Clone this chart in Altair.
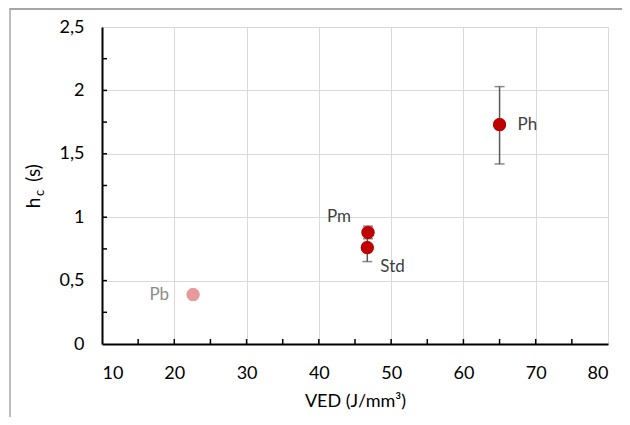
import altair as alt
import pandas as pd

# ---- data ----
names = ["Pb", "Std", "Pm", "Ph"]
ved = [22.6, 46.7, 46.8, 65.0]
hc = [0.39, 0.76, 0.88, 1.73]
err_low = [None, 0.65, 0.83, 1.42]
err_high = [None, 0.87, 0.93, 2.03]
point_colors = ["#e8999b", "#c00000", "#c00000", "#c00000"]
label_colors = ["#8c8c8c", "#404040", "#404040", "#404040"]

x_major = [10, 20, 30, 40, 50, 60, 70, 80]
x_minor = [15, 20, 25, 30, 35, 40, 45, 50, 55, 60, 65, 70, 75]
y_major = [0, 0.5, 1, 1.5, 2, 2.5]
y_minor = [0.25, 0.5, 0.75, 1, 1.25, 1.5, 1.75, 2, 2.25]

df = pd.DataFrame({
    "name": names, "ved": ved, "hc": hc,
    "lo": err_low, "hi": err_high,
    "pcolor": point_colors, "lcolor": label_colors,
})
dfx = pd.DataFrame({"xm": x_minor})
dfy = pd.DataFrame({"ym": y_minor})
one = pd.DataFrame({"k": [0]})

FONT = "Lato"
W, H = 506, 317

xs = alt.Scale(domain=[10, 80], nice=False, zero=False)
ys = alt.Scale(domain=[0, 2.5], nice=False)

points = alt.Chart(df).mark_circle(size=170, opacity=1).encode(
    x=alt.X("ved:Q", scale=xs, axis=alt.Axis(
        values=x_major, grid=True, gridColor="#d9d9d9", gridWidth=1,
        ticks=False, domainColor="#000000", domainWidth=2,
        labelFont=FONT, labelFontSize=18, labelColor="#000000", labelPadding=20,
        title="VED (J/mm³)", titleFont=FONT, titleFontSize=18,
        titleFontWeight="normal", titleColor="#000000", titlePadding=10)),
    y=alt.Y("hc:Q", scale=ys, axis=alt.Axis(
        values=y_major, grid=True, gridColor="#d9d9d9", gridWidth=1,
        ticks=False, domainColor="#000000", domainWidth=2,
        labelFont=FONT, labelFontSize=18, labelColor="#000000", labelPadding=18,
        labelExpr="replace(toString(datum.value), '.', ',')",
        title=None)),
    color=alt.Color("pcolor:N", scale=None),
)

# inward minor ticks
xticks = alt.Chart(dfx).mark_rule(color="#000000", strokeWidth=1.5).encode(
    x=alt.X("xm:Q", scale=xs), y=alt.value(H), y2=alt.value(H - 5))
yticks = alt.Chart(dfy).mark_rule(color="#000000", strokeWidth=1.5).encode(
    y=alt.Y("ym:Q", scale=ys), x=alt.value(0), x2=alt.value(5))

errs = alt.Chart(df).transform_filter("datum.lo != null").mark_errorbar(
    color="#595959", thickness=1.5,
    ticks={"size": 10, "thickness": 1.5, "color": "#595959"},
).encode(
    x=alt.X("ved:Q", scale=xs),
    y=alt.Y("lo:Q", scale=ys, title=None),
    y2="hi:Q",
)

label_style = {
    "Ph": dict(align="left", dx=18, dy=0),
    "Pm": dict(align="right", dx=-17, dy=-15),
    "Std": dict(align="left", dx=13, dy=19),
    "Pb": dict(align="right", dx=-24, dy=0),
}
labels = []
for nm, st in label_style.items():
    labels.append(
        alt.Chart(df).transform_filter(alt.datum.name == nm).mark_text(
            font=FONT, fontSize=17, baseline="middle", **st
        ).encode(
            x=alt.X("ved:Q", scale=xs), y=alt.Y("hc:Q", scale=ys),
            text="name:N", color=alt.Color("lcolor:N", scale=None),
        )
    )

# y-axis title with subscript
ytitle_h = alt.Chart(one).mark_text(text="h", font=FONT, fontSize=19, angle=270,
    align="center", baseline="middle", color="#000000").encode(
    x=alt.value(-68), y=alt.value(176))
ytitle_c = alt.Chart(one).mark_text(text="c", font=FONT, fontSize=13, angle=270,
    align="center", baseline="middle", color="#000000").encode(
    x=alt.value(-62), y=alt.value(166))
ytitle_s = alt.Chart(one).mark_text(text="(s)", font=FONT, fontSize=19, angle=270,
    align="center", baseline="middle", color="#000000").encode(
    x=alt.value(-68), y=alt.value(146))

# outer frame (left & top edges)
frame_left = alt.Chart(one).mark_rule(color="#a6a6a6", strokeWidth=1.5).encode(
    x=alt.value(-92), y=alt.value(-19), y2=alt.value(400))
frame_top = alt.Chart(one).mark_rule(color="#a6a6a6", strokeWidth=2).encode(
    x=alt.value(-92), x2=alt.value(530), y=alt.value(-18))

chart = alt.layer(
    points, xticks, yticks, errs, points, *labels, ytitle_h, ytitle_c, ytitle_s,
    frame_left, frame_top
).properties(
    width=W, height=H,
    autosize=alt.AutoSizeParams(type="none"),
    padding={"left": 94, "top": 19, "right": 14, "bottom": 73},
).configure_view(stroke="#262626", strokeWidth=2).configure(background="white")

chart.save("out.html", embed_options={"renderer": "svg", "actions": False})
